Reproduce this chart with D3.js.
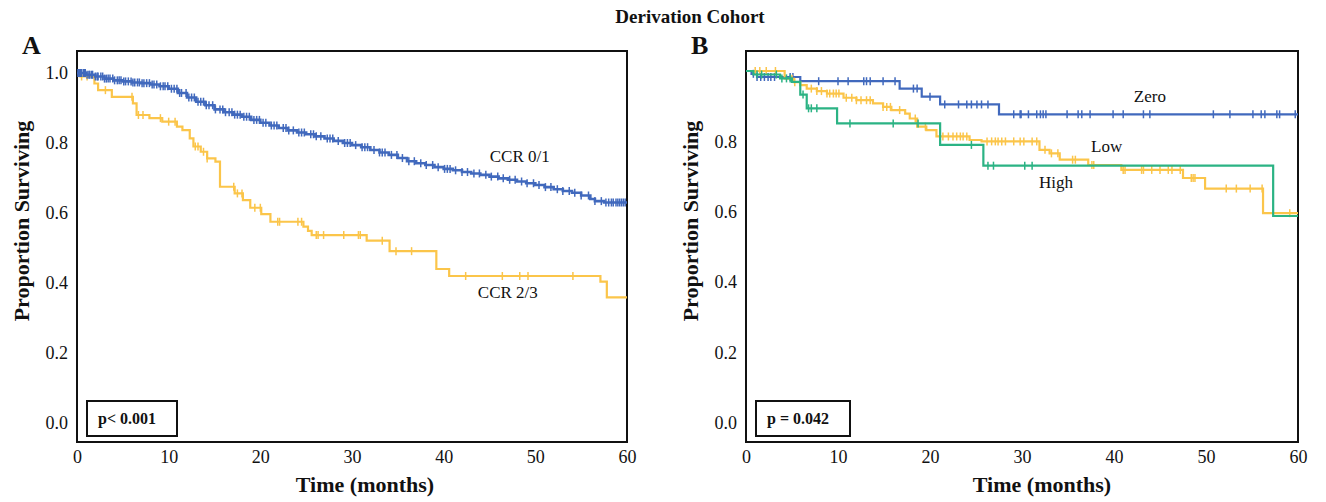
<!DOCTYPE html>
<html>
<head>
<meta charset="utf-8">
<script src="https://cdn.jsdelivr.net/npm/d3@7"></script>
<style>
	body { margin: 0; background: #fff; }
	svg text { font-family: 'Liberation Serif', 'Times New Roman', serif; fill: #111; }
</style>
</head>
<body>
<div id="vis"></div>
<script>
// tick labels
var timeTicks = [0, 10, 20, 30, 40, 50, 60];
var survTicksA = [0, 0.2, 0.4, 0.6, 0.8, 1.0];
var survTicksB = [0, 0.2, 0.4, 0.6, 0.8];

// panel A: [time (months), proportion surviving] at each drop
var ccr01Steps = [[0,1.0],[1,0.995],[2,0.99],[3,0.984],[4,0.979],[5,0.976],[6,0.973],[7,0.971],[8,0.967],[9,0.962],
	[10,0.955],[11,0.943],[12,0.93],[13,0.918],[14,0.908],[15,0.896],[16,0.888],[17,0.881],[18,0.875],[19,0.866],
	[20,0.858],[21,0.85],[22,0.843],[23,0.836],[24,0.83],[25,0.825],[26,0.819],[27,0.813],[28,0.806],[29,0.8],
	[30,0.794],[31,0.788],[32,0.78],[33,0.773],[34,0.766],[35,0.757],[36,0.748],[37,0.742],[38,0.737],[39,0.731],
	[40,0.726],[41,0.722],[42,0.717],[43,0.713],[44,0.709],[45,0.704],[46,0.699],[47,0.695],[48,0.69],[49,0.685],
	[50,0.68],[51,0.674],[52,0.668],[53,0.663],[54,0.658],[55,0.65],[56,0.64],[56.5,0.634],[57.5,0.63]];
var ccr01Censor = [0.1,0.2,0.3,0.4,0.5,0.7,0.8,0.9,1.1,1.3,1.4,1.6,1.7,2.0,2.2,2.3,2.6,2.8,3.0,3.2,3.4,3.6,3.9,4.1,4.4,
	4.6,4.8,5.1,5.3,5.6,5.9,6.1,6.3,6.6,6.8,7.1,7.3,7.6,7.9,8.2,8.4,8.7,9.1,9.4,9.6,9.9,10.3,10.6,10.9,11.2,11.4,11.9,
	12.2,12.5,12.8,13.2,13.5,13.8,14.1,14.4,14.8,15.1,15.6,15.9,16.2,16.6,16.9,17.2,17.5,17.8,18.2,18.5,18.8,19.3,19.6,
	19.9,20.3,20.6,21.2,21.5,21.8,22.5,22.8,23.1,23.6,24.2,24.5,24.8,25.5,25.8,26.1,26.6,27.3,27.6,27.9,28.5,29.2,29.5,
	29.8,30.4,31.1,31.4,31.7,32.4,33.0,33.3,33.6,34.3,34.9,35.5,36.2,36.8,37.5,38.1,38.8,39.4,40.1,40.4,40.7,41.3,42.0,
	42.6,43.3,43.9,44.6,45.2,45.9,46.5,47.2,47.8,48.5,49.1,49.8,50.4,51.1,51.7,52.4,53.0,53.7,54.3,55.0,55.8,56.5,57.2,
	57.7,58.0,58.3,58.5,58.8,59.0,59.2,59.4,59.6,59.8];

var ccr23Steps = [[0,1.0],[0.3,0.99],[1.9,0.97],[2.3,0.951],[3.8,0.932],[6.1,0.913],[6.5,0.88],[7.9,0.871],[9.3,0.861],
	[10.9,0.847],[11.5,0.837],[12.3,0.813],[12.7,0.79],[13.5,0.775],[14.2,0.756],[15.1,0.747],[15.6,0.675],[17.2,0.656],
	[18.1,0.637],[18.9,0.615],[20.1,0.597],[21.1,0.575],[24.7,0.561],[25.2,0.549],[25.6,0.537],[31.6,0.521],[34.1,0.491],
	[39.2,0.44],[40.6,0.42],[57.1,0.404],[57.8,0.359]];
var ccr23Censor = [0.5,1.1,3.1,6.0,6.7,7.2,9.1,10.0,10.7,12.9,13.2,13.8,14.2,17.1,17.5,18.0,19.4,20.0,21.9,22.1,24.1,24.5,
	26.1,26.3,26.9,29.1,30.7,30.9,33.3,34.8,36.5,42.4,46.4,48.3,49.2,54.1];

// panel B
var zeroSteps = [[0,1.0],[0.6,0.992],[1.2,0.983],[5.9,0.971],[16.7,0.95],[19.1,0.927],[21.1,0.905],[27.5,0.877]];
var zeroCensor = [0.8,1.2,1.6,2.0,2.4,2.7,3.1,4.8,5.1,7.9,10.0,11.1,12.8,13.1,13.5,14.9,16.2,18.2,18.6,20.0,21.6,23.1,
	24.0,24.5,25.1,25.6,26.3,29.1,29.8,29.9,30.7,31.6,32.0,32.3,32.6,34.9,36.1,36.5,37.4,39.9,41.0,43.2,43.9,50.8,52.6,
	55.1,56.0,56.4,57.7,58.0,59.7];

var lowSteps = [[0,1.0],[4.2,0.978],[5.2,0.968],[5.9,0.96],[6.6,0.95],[7.7,0.943],[8.8,0.936],[10.6,0.924],[12.0,0.917],
	[13.8,0.908],[14.9,0.898],[15.8,0.889],[17.3,0.879],[17.8,0.865],[18.6,0.842],[19.6,0.832],[20.7,0.814],[24.3,0.804],
	[25.6,0.8],[31.9,0.776],[33.0,0.766],[34.1,0.748],[37.2,0.733],[40.8,0.719],[47.5,0.696],[49.9,0.666],[56.2,0.596]];
var lowCensor = [1.0,1.5,2.2,3.2,5.0,5.3,7.1,7.7,8.2,8.8,9.1,9.5,9.8,10.1,10.9,11.5,12.0,12.5,13.1,13.5,14.9,15.3,15.7,
	16.7,18.4,19.5,21.4,22.0,22.5,22.9,23.3,23.6,24.0,26.2,26.7,27.1,27.4,27.8,28.2,29.1,29.8,30.2,31.1,31.6,32.5,33.2,
	33.9,35.5,35.8,37.6,37.8,41.0,41.2,43.0,43.2,44.1,45.0,45.9,46.3,47.2,48.4,48.6,48.8,52.2,53.3,54.8,56.1,59.1];

var highSteps = [[0,1.0],[0.8,0.99],[3.7,0.979],[5.0,0.969],[5.9,0.933],[6.6,0.894],[9.9,0.851],[21.1,0.79],
	[25.8,0.731],[57.3,0.588]];
var highCensor = [1.2,1.7,3.3,3.9,4.4,4.8,6.2,6.8,7.1,7.7,11.3,16.0,18.7,24.5,26.3,26.9,30.3,31.1];

var width = 1326,
	height = 502;

var blue = '#4169bd',
	orange = '#fbc54a',
	green = '#2bb384';

var svg = d3.select('#vis')
	.append('svg')
	.attr('width', width)
	.attr('height', height);

svg.append('text')
	.attr('x', 690)
	.attr('y', 23)
	.attr('text-anchor', 'middle')
	.attr('font-size', 19)
	.attr('font-weight', 'bold')
	.text('Derivation Cohort');

// value at time t of a KM step curve
var survAt = function(steps, t) {
	var v = steps[0][1];
	steps.forEach(function(s) { if (s[0] <= t) v = s[1]; });
	return v;
};

var drawPanel = function(p) {
	var xScale = d3.scaleLinear().domain([0, 60]).range([p.left, p.right]);
	var yScale = d3.scaleLinear().domain([0, 1]).range([423, p.yTop]);

	var g = svg.append('g');

	// frame
	g.append('rect')
		.attr('x', p.left)
		.attr('y', 51)
		.attr('width', p.right - p.left)
		.attr('height', 442 - 51)
		.attr('fill', 'none')
		.attr('stroke', '#111')
		.attr('stroke-width', 2);

	var xAxis = d3.axisBottom(xScale)
		.tickValues(timeTicks)
		.tickSize(0)
		.tickPadding(8)
		.tickFormat(d3.format('d'));

	var yAxis = d3.axisLeft(yScale)
		.tickValues(p.yTicks)
		.tickSize(0)
		.tickPadding(9)
		.tickFormat(d3.format('.1f'));

	var xg = g.append('g')
		.attr('transform', 'translate(0,442)')
		.call(xAxis);
	var yg = g.append('g')
		.attr('transform', 'translate(' + p.left + ',0)')
		.call(yAxis);

	[xg, yg].forEach(function(a) {
		a.select('.domain').remove();
		a.attr('font-family', null).attr('font-size', null);
		a.selectAll('text').attr('font-size', 18).attr('fill', '#111');
	});

	g.append('text')
		.attr('x', p.left + p.titleOffset)
		.attr('y', 492)
		.attr('text-anchor', 'middle')
		.attr('font-size', 22)
		.attr('font-weight', 'bold')
		.text('Time (months)');

	g.append('text')
		.attr('transform', 'translate(' + (p.left - 48) + ',221) rotate(-90)')
		.attr('text-anchor', 'middle')
		.attr('font-size', 22)
		.attr('font-weight', 'bold')
		.text('Proportion Surviving');

	g.append('text')
		.attr('x', p.left - 55)
		.attr('y', 54)
		.attr('font-size', 26)
		.attr('font-weight', 'bold')
		.text(p.letter);

	// p value box
	g.append('rect')
		.attr('x', p.left + 10)
		.attr('y', 401)
		.attr('width', p.boxWidth)
		.attr('height', 35)
		.attr('fill', '#fff')
		.attr('stroke', '#111')
		.attr('stroke-width', 2);

	g.append('text')
		.attr('x', p.left + 21)
		.attr('y', 424)
		.attr('font-size', 16)
		.attr('font-weight', 'bold')
		.text(p.pText);

	var line = d3.line()
		.curve(d3.curveStepAfter)
		.x(function(d) { return xScale(d[0]); })
		.y(function(d) { return yScale(d[1]); });

	p.series.forEach(function(s) {
		var pts = s.steps.concat([[60, s.steps[s.steps.length - 1][1]]]);

		g.append('path')
			.datum(pts)
			.attr('d', line)
			.attr('fill', 'none')
			.attr('stroke', s.color)
			.attr('stroke-width', s.width || 2.2);

		g.append('g')
			.selectAll('line')
			.data(s.censor)
			.enter().append('line')
			.attr('x1', function(d) { return xScale(d); })
			.attr('x2', function(d) { return xScale(d); })
			.attr('y1', function(d) { return yScale(survAt(s.steps, d)) - 4; })
			.attr('y2', function(d) { return yScale(survAt(s.steps, d)) + 4; })
			.attr('stroke', s.color)
			.attr('stroke-width', 1.5);

		g.append('text')
			.attr('x', xScale(s.label[1]))
			.attr('y', yScale(s.label[2]))
			.attr('text-anchor', 'middle')
			.attr('font-size', 17)
			.text(s.label[0]);
	});
};

drawPanel({
	left: 77, right: 627, yTop: 73, yTicks: survTicksA, letter: 'A',
	pText: 'p< 0.001', boxWidth: 90, titleOffset: 288,
	series: [
		{ steps: ccr23Steps, censor: ccr23Censor, color: orange, label: ['CCR 2/3', 47, 0.357] },
		{ steps: ccr01Steps, censor: ccr01Censor, color: blue, width: 2.6, label: ['CCR 0/1', 48.3, 0.747] }
	]
});

drawPanel({
	left: 746, right: 1298, yTop: 71, yTicks: survTicksB, letter: 'B',
	pText: 'p = 0.042', boxWidth: 94, titleOffset: 296,
	series: [
		{ steps: zeroSteps, censor: zeroCensor, color: blue, label: ['Zero', 43.9, 0.913] },
		{ steps: lowSteps, censor: lowCensor, color: orange, label: ['Low', 39.2, 0.771] },
		{ steps: highSteps, censor: highCensor, color: green, label: ['High', 33.7, 0.668] }
	]
});
</script>
</body>
</html>
